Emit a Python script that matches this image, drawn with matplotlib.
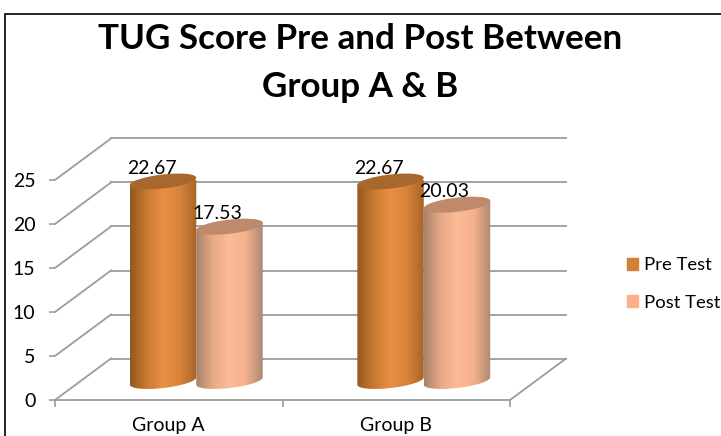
import numpy as np
import matplotlib
matplotlib.use('Agg')
import matplotlib.pyplot as plt
from matplotlib.colors import LinearSegmentedColormap
from matplotlib.patches import Patch, Rectangle
from matplotlib.path import Path

groups = ['Group A', 'Group B']
pre_test = [22.67, 22.67]
post_test = [17.53, 20.03]
y_ticks = [0, 5, 10, 15, 20, 25]

W, H = 721, 436
# front plane in pixels: x 55..510, value 0 at y=400, value 25 at y=180
dx = 56 / 227.5      # depth of the box, category units
dy = 41.5 / 8.8      # depth of the box, value units
bar_w = 0.292
floor = 2.16         # cylinders stand in the middle of the floor
PRE = ['#94581f', '#c97a32', '#ea8f45', '#d8843a', '#a86428']
POST = ['#a8826a', '#e8aa87', '#fdbb96', '#f4b08c', '#ab8a74']
GRID = '#9c9c9c'

plt.rcParams['font.family'] = ['Lato', 'DejaVu Sans']
fig = plt.figure(figsize=(W / 100, H / 100), dpi=100)
ax = fig.add_axes([55 / W, (H - 400) / H, 455 / W, 220 / H])
ax.patch.set_alpha(0)


def cylinder(xc, value, colors, top, z):
    a = bar_w / 2
    b = 0.8
    tilt = 0.42
    t1 = np.linspace(0, np.pi, 60)
    t2 = np.linspace(np.pi, 2 * np.pi, 60)
    yt = floor + value
    xs = np.r_[xc + a * np.cos(t1), xc + a * np.cos(t2)]
    ys = np.r_[yt + b * np.sin(t1) + tilt * np.cos(t1),
               floor + b * np.sin(t2) + tilt * np.cos(t2)]
    cmap = LinearSegmentedColormap.from_list('c', colors)
    im = ax.imshow(np.linspace(0, 1, 128)[None, :], cmap=cmap, aspect='auto',
                   extent=[xc - a, xc + a, floor - 2, yt + 2], zorder=z,
                   interpolation='bilinear')
    im.set_clip_path(Path(np.c_[xs, ys]), transform=ax.transData)
    t = np.linspace(0, 2 * np.pi, 120)
    ax.fill(xc + a * np.cos(t), yt + b * np.sin(t) + tilt * np.cos(t),
            color=top, lw=0, zorder=z + 0.1, clip_on=False)


for i in range(len(groups)):
    cylinder(i + 0.475, pre_test[i], PRE, '#a8672c', 3)
    cylinder(i + 0.767, post_test[i], POST, '#bf8a6c', 5)
    ax.annotate(f'{pre_test[i]:.2f}', (i + 0.475, floor + pre_test[i]),
                xytext=(-8, 3.5), textcoords='offset points', ha='center',
                va='bottom', fontsize=14, color='black', zorder=2.5)
    ax.annotate(f'{post_test[i]:.2f}', (i + 0.767, floor + post_test[i]),
                xytext=(-9, 3.5), textcoords='offset points', ha='center',
                va='bottom', fontsize=14, color='black', zorder=4)

# box: back wall lines, left wall diagonals, right floor edge
for v in y_ticks:
    ax.plot([dx, 2 + dx], [v + dy, v + dy], color=GRID, lw=1.3, zorder=1, clip_on=False)
    ax.plot([0, dx], [v, v + dy], color=GRID, lw=1.3, zorder=1, clip_on=False)
ax.plot([2, 2 + dx], [0, dy], color=GRID, lw=1.3, zorder=1, clip_on=False)

ax.set_xlim(0, 2)
ax.set_ylim(0, 25)
for s in ['top', 'right', 'left']:
    ax.spines[s].set_visible(False)
ax.spines['bottom'].set_color(GRID)
ax.spines['bottom'].set_linewidth(1.3)
ax.set_yticks(y_ticks)
ax.set_xticks([0, 1, 2])
ax.set_xticklabels([])
ax.set_xticks([0.5, 1.5], minor=True)
ax.set_xticklabels(groups, minor=True)
ax.tick_params(axis='x', which='major', length=5, color=GRID, width=1.2)
ax.tick_params(axis='x', which='minor', length=0, pad=12.5, labelsize=14)
ax.tick_params(axis='y', length=4, color=GRID, width=1.2, pad=10, labelsize=14)

fig.text(360 / W, (H - 39) / H, 'TUG Score Pre and Post Between', ha='center',
         va='center', fontsize=25.2, fontweight='bold')
fig.text(360 / W, (H - 87) / H, 'Group A & B', ha='center',
         va='center', fontsize=25.2, fontweight='bold')

handles = [Patch(color='#d57f36', label='Pre Test'), Patch(color='#fbb08b', label='Post Test')]
fig.legend(handles=handles, loc='center left', bbox_to_anchor=(627 / W, (H - 284) / H),
           frameon=False, fontsize=13.3, handlelength=0.6, handleheight=0.6,
           handletextpad=0.34, labelspacing=1.15, borderpad=0, borderaxespad=0)

fig.add_artist(Rectangle((5 / W, -0.1), 1.1, 0.1 + (H - 14) / H, transform=fig.transFigure,
                         fill=False, ec='black', lw=1.2))
fig.savefig('out.png', dpi=100)
